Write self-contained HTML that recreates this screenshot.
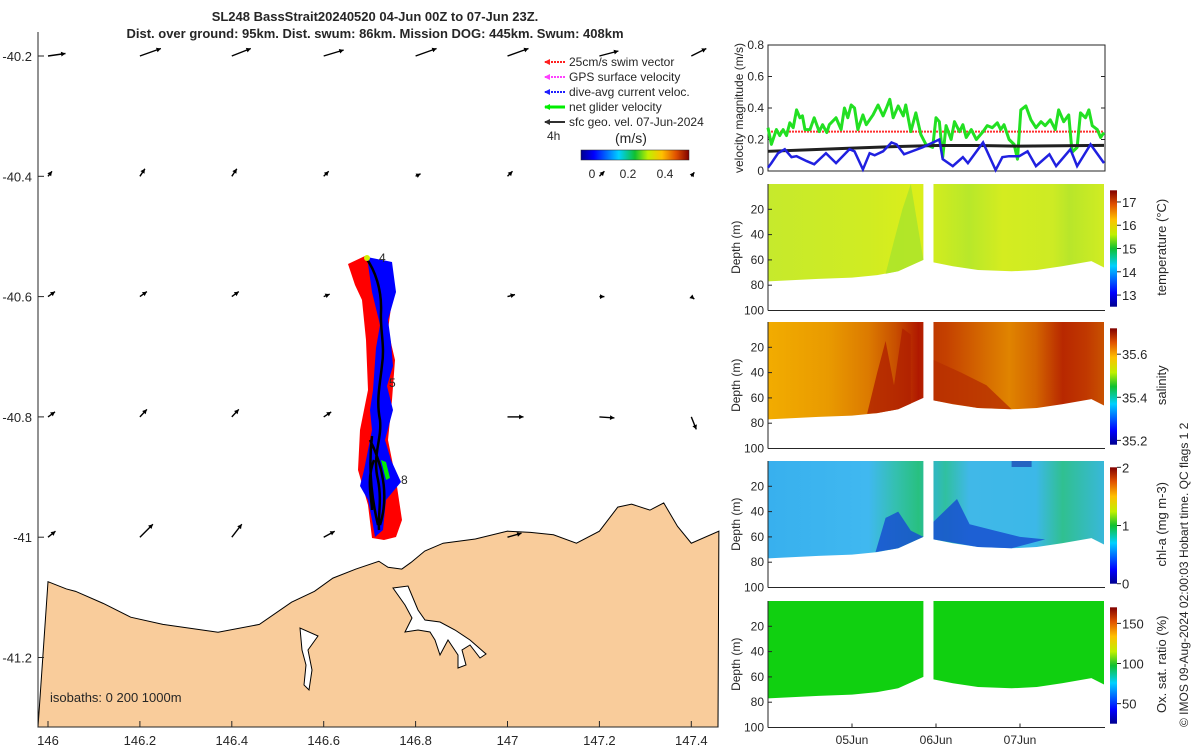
<!DOCTYPE html>
<html><head><meta charset="utf-8"><style>
body{margin:0;background:#fff}
svg text{font-family:"Liberation Sans",sans-serif;fill:#262626}
</style></head><body>
<svg id="s" width="1200" height="750" viewBox="0 0 1200 750" xmlns="http://www.w3.org/2000/svg">
<defs>
<linearGradient id="jet" x1="0" x2="1" y1="0" y2="0">
<stop offset="0" stop-color="#00008f"/><stop offset="0.12" stop-color="#0000ff"/><stop offset="0.35" stop-color="#00d0ff"/><stop offset="0.5" stop-color="#10c030"/><stop offset="0.62" stop-color="#c0f000"/><stop offset="0.75" stop-color="#ffc000"/><stop offset="0.88" stop-color="#e05000"/><stop offset="1" stop-color="#800000"/>
</linearGradient>
<linearGradient id="jetv" x1="0" x2="0" y1="1" y2="0">
<stop offset="0" stop-color="#00008f"/><stop offset="0.12" stop-color="#0000ff"/><stop offset="0.35" stop-color="#00d0ff"/><stop offset="0.5" stop-color="#10c030"/><stop offset="0.62" stop-color="#c0f000"/><stop offset="0.75" stop-color="#ffc000"/><stop offset="0.88" stop-color="#e05000"/><stop offset="1" stop-color="#800000"/>
</linearGradient>
<linearGradient id="gT" x1="768" x2="1103" gradientUnits="userSpaceOnUse">
<stop offset="0" stop-color="#c6ea2c"/><stop offset="0.3" stop-color="#d0ec22"/><stop offset="0.45" stop-color="#dcee1a"/><stop offset="0.6" stop-color="#b8e82a"/><stop offset="0.7" stop-color="#d4ec20"/><stop offset="0.85" stop-color="#cdeb24"/><stop offset="0.9" stop-color="#b8e62a"/><stop offset="1" stop-color="#d0ec22"/>
</linearGradient>
<linearGradient id="gS" x1="768" x2="1103" gradientUnits="userSpaceOnUse">
<stop offset="0" stop-color="#f2ac00"/><stop offset="0.18" stop-color="#e99a00"/><stop offset="0.3" stop-color="#dc7a00"/><stop offset="0.38" stop-color="#c85000"/><stop offset="0.45" stop-color="#b01800"/><stop offset="0.5" stop-color="#c03c00"/><stop offset="0.53" stop-color="#c44000"/><stop offset="0.65" stop-color="#d66c00"/><stop offset="0.72" stop-color="#e08400"/><stop offset="0.8" stop-color="#d36400"/><stop offset="0.88" stop-color="#b82800"/><stop offset="0.95" stop-color="#c03800"/><stop offset="1" stop-color="#c85000"/>
</linearGradient>
<linearGradient id="gC" x1="768" x2="1103" gradientUnits="userSpaceOnUse">
<stop offset="0" stop-color="#38b0ee"/><stop offset="0.3" stop-color="#40b8f0"/><stop offset="0.38" stop-color="#34c0b0"/><stop offset="0.45" stop-color="#28c080"/><stop offset="0.5" stop-color="#30b8c0"/><stop offset="0.53" stop-color="#30c0a0"/><stop offset="0.6" stop-color="#40b8e8"/><stop offset="0.8" stop-color="#3cb8e8"/><stop offset="0.88" stop-color="#30c090"/><stop offset="1" stop-color="#38b8d8"/>
</linearGradient>
</defs>
<g id="map"></g>
<g id="vel"></g>
<g id="sec"></g>
<text x="375" y="21" text-anchor="middle" font-size="13" font-weight="bold">SL248 BassStrait20240520 04-Jun 00Z to 07-Jun 23Z.</text>
<text x="375" y="38" text-anchor="middle" font-size="13" font-weight="bold">Dist. over ground: 95km. Dist. swum: 86km. Mission DOG: 445km. Swum: 408km</text>
<text transform="translate(1188,727) rotate(-90)" font-size="12">© IMOS 09-Aug-2024 02:00:03 Hobart time. QC flags 1  2</text>
</svg>
<script>
const NS="http://www.w3.org/2000/svg";
function mk(p,tag,at,txt){const e=document.createElementNS(NS,tag);for(const k in at)e.setAttribute(k,at[k]);if(txt!==undefined)e.textContent=txt;p.appendChild(e);return e;}
// ---------- MAP ----------
const lonTicks=[146,146.2,146.4,146.6,146.8,147,147.2,147.4];
const latTicks=[-40.2,-40.4,-40.6,-40.8,-41,-41.2];
const arrowLons=[146,146.2,146.4,146.6,146.8,147,147.2,147.4];
const arrowLats=[-40.2,-40.4,-40.6,-40.8,-41];
const arrowU=[[0.35,0.42,0.38,0.4,0.42,0.42,0.38,0.3],[0.08,0.1,0.1,0.1,0.1,0.1,0.1,0.06],[0.14,0.14,0.14,0.12,0,0.15,0.1,0.06],[0.14,0.14,0.14,0.15,0,0.32,0.3,0.1],[0.15,0.26,0.2,0.22,0,0.28,0,0]];
const arrowV=[[0.05,0.15,0.15,0.12,0.15,0.15,0.1,0.15],[0.1,0.15,0.15,0.1,0.05,0.1,0.1,0.08],[0.1,0.1,0.1,0.05,0,0.04,0,-0.05],[0.1,0.15,0.15,0.1,0,0,-0.02,-0.25],[0.12,0.26,0.26,0.12,0,0.08,0,0]];
const coastLon=[146,146.04,146.06,146.12,146.18,146.25,146.37,146.46,146.53,146.58,146.62,146.67,146.72,146.74,146.77,146.79,146.82,146.86,146.93,147,147.05,147.1,147.15,147.2,147.24,147.27,147.31,147.34,147.37,147.4,147.46];
const coastLat=[-41.074,-41.086,-41.09,-41.11,-41.133,-41.145,-41.158,-41.145,-41.108,-41.09,-41.068,-41.053,-41.04,-41.05,-41.053,-41.042,-41.023,-41.01,-41.003,-40.99,-40.992,-40.996,-41.01,-40.99,-40.95,-40.945,-40.955,-40.943,-40.982,-41.01,-40.99];
const X=l=>48+(l-146)*459.5, Y=a=>56+(-40.2-a)*601.5;
const m=document.getElementById('map');
let pts=coastLon.map((l,i)=>X(l)+','+Y(coastLat[i])).join(' ');
let land=mk(m,'polygon',{points:pts+' 718,727 38,727',fill:'#f9cc9b',stroke:'#000','stroke-width':1});


const inlet1=mk(m,'path',{d:'M300,628 L302,650 L306,665 L304,685 L309,690 L312,670 L308,650 L318,636 Z',fill:'#fff',stroke:'#000','stroke-width':1});


const est=mk(m,'path',{d:'M393,588 L408,586 L418,610 L425,620 L440,622 L455,630 L470,640 L486,654 L480,658 L470,645 L462,650 L466,665 L458,668 L458,655 L448,640 L440,655 L435,640 L430,632 L418,630 L405,632 L412,618 L405,605 Z',fill:'#fff',stroke:'#000','stroke-width':1});


mk(m,'line',{x1:38,y1:32,x2:38,y2:727,stroke:'#262626'});
mk(m,'line',{x1:38,y1:727,x2:718,y2:727,stroke:'#262626'});
lonTicks.forEach(l=>{const t=mk(m,'text',{x:X(l),y:745,'text-anchor':'middle','font-size':13},String(l));mk(m,'line',{x1:X(l),x2:X(l),y1:727,y2:721,stroke:'#262626'});});
latTicks.forEach(a=>{const t=mk(m,'text',{x:32,y:Y(a)+5,'text-anchor':'end','font-size':13},String(a));mk(m,'line',{x1:38,x2:44,y1:Y(a),y2:Y(a),stroke:'#262626'});});
arrowLats.forEach((a,r)=>arrowLons.forEach((l,c)=>{const u=arrowU[r][c],v=arrowV[r][c];if(!u&&!v)return;const x0=X(l),y0=Y(a),x1=x0+u*50,y1=y0-v*50;
 const g=mk(m,'g',{});
 mk(g,'line',{x1:x0,y1:y0,x2:x1,y2:y1,stroke:'#000','stroke-width':1.4});
 const ang=Math.atan2(y1-y0,x1-x0);mk(g,'polygon',{points:`${x1},${y1} ${x1-5*Math.cos(ang-0.5)},${y1-5*Math.sin(ang-0.5)} ${x1-5*Math.cos(ang+0.5)},${y1-5*Math.sin(ang+0.5)}`,fill:'#000'});}));
const red=mk(m,'polygon',{points:'348,264 365,256 385,268 392,300 388,330 395,360 392,400 388,440 396,480 402,520 396,537 384,540 372,538 368,505 358,470 360,430 368,390 366,340 362,300 355,285',fill:'#ff0000'});

const blue=mk(m,'polygon',{points:'367,257 392,262 396,292 388,320 391,342 393,366 387,386 393,410 385,440 391,460 401,482 386,500 383,530 375,537 372,520 368,500 360,486 364,470 372,430 370,410 373,390 376,348 380,325 372,292',fill:'#0000ff'});

const trk=mk(m,'path',{d:'M366,258 C375,270 382,290 381,312 C380,330 385,345 382,365 C380,385 376,400 380,420 C382,440 372,455 378,480 C382,500 378,515 379,530 M372,436 C368,470 372,500 378,525 M370,440 C385,470 388,500 380,525 M374,460 C366,480 372,500 372,510',fill:'none',stroke:'#000','stroke-width':2.5});

mk(m,'polygon',{points:'381,460 386,462 390,478 386,480',fill:'#00ee00'});
mk(m,'circle',{cx:367,cy:258,r:3,fill:'#d0f000'});
[['4',379,262],['5',389,387],['8',401,484]].forEach(d=>{const t=mk(m,'text',{x:d[1],y:d[2],'font-size':12},d[0]);});
const iso=mk(m,'text',{x:50,y:702,'font-size':13},'isobaths: 0   200  1000m');
const legColors=['#ff2020','#ff40ff','#2020ff','#00ee00','#303030'];
const legLabels=['25cm/s swim vector','GPS surface velocity','dive-avg current veloc.','net glider velocity','sfc geo. vel. 07-Jun-2024'];
legLabels.forEach((s,i)=>{const y=62+i*15;const g=mk(m,'g',{});
 mk(g,'line',{x1:545,x2:565,y1:y,y2:y,stroke:legColors[i],'stroke-width':i==3?3:2,'stroke-dasharray':i<3?'2,1':''});
 mk(g,'polygon',{points:`${544},${y} ${550},${y-3} ${550},${y+3}`,fill:legColors[i]});
 mk(g,'text',{x:569,y:y+4,'font-size':12},s);});
mk(m,'text',{x:547,y:140,'font-size':12},'4h');
const mu=mk(m,'text',{x:615,y:143,'font-size':14},'(m/s)');
const cb=mk(m,'rect',{x:581,y:150,width:108,height:10,fill:'url(#jet)',stroke:'#262626','stroke-width':0.5});
[['0',592],['0.2',628],['0.4',665]].forEach(d=>mk(m,'text',{x:d[1],y:178,'text-anchor':'middle','font-size':12},d[0]));
// ---------- VELOCITY ----------
const greenT=[0,0.04,0.1,0.14,0.18,0.22,0.26,0.3,0.34,0.38,0.41,0.44,0.5,0.55,0.61,0.65,0.7,0.73,0.81,0.87,0.91,0.95,0.99,1.03,1.07,1.13,1.17,1.25,1.31,1.37,1.41,1.45,1.49,1.55,1.61,1.64,1.7,1.76,1.82,1.88,1.96,2.0,2.04,2.08,2.12,2.18,2.22,2.28,2.32,2.36,2.42,2.48,2.56,2.61,2.67,2.73,2.77,2.81,2.87,2.93,2.97,3.01,3.07,3.13,3.19,3.25,3.3,3.36,3.42,3.46,3.52,3.58,3.62,3.68,3.72,3.78,3.82,3.86,3.92,3.96,4.0];
const greenV=[0.275,0.169,0.263,0.225,0.263,0.225,0.306,0.275,0.388,0.338,0.35,0.263,0.263,0.338,0.25,0.294,0.244,0.294,0.338,0.263,0.4,0.338,0.419,0.4,0.263,0.356,0.294,0.356,0.419,0.35,0.4,0.455,0.338,0.413,0.35,0.419,0.25,0.369,0.231,0.169,0.15,0.338,0.313,0.088,0.288,0.2,0.313,0.25,0.294,0.213,0.263,0.2,0.25,0.288,0.275,0.306,0.263,0.294,0.2,0.169,0.075,0.388,0.413,0.325,0.275,0.313,0.288,0.325,0.263,0.388,0.313,0.356,0.119,0.15,0.369,0.338,0.388,0.288,0.263,0.213,0.244];
const blueT=[0,0.04,0.12,0.2,0.28,0.34,0.46,0.55,0.69,0.81,0.97,1.03,1.13,1.21,1.27,1.37,1.47,1.53,1.62,1.84,2.04,2.08,2.2,2.32,2.38,2.56,2.71,2.79,2.87,2.99,3.09,3.19,3.35,3.43,3.6,3.68,3.84,4.0];
const blueV=[0.021,0.05,0.113,0.138,0.088,0.094,0.063,0.043,0.113,0.05,0.138,0.125,0.01,0.113,0.1,0.125,0.181,0.169,0.106,0.15,0.2,0.075,0.031,0.088,0.05,0.181,0.006,0.088,0.094,0.094,0.125,0.031,0.106,0.031,0.138,0.031,0.169,0.05];
const geoT=[0,0.5,1,1.5,2,2.5,3,3.5,4];
const geoV=[0.125,0.135,0.145,0.155,0.162,0.162,0.158,0.16,0.163];
const swimV=0.25;
const velTicks=[0,0.2,0.4,0.6,0.8];
const dayTicks=[1,2,3], dayLabels=['05Jun','06Jun','07Jun'];
const VX=t=>768+t*84, VY=v=>171-v*157.5;
const vg=document.getElementById('vel');
mk(vg,'rect',{x:768,y:45,width:337,height:126,fill:'none',stroke:'#262626'});
velTicks.forEach(v=>{mk(vg,'text',{x:764,y:VY(v)+4,'text-anchor':'end','font-size':12},String(v));mk(vg,'line',{x1:768,x2:772,y1:VY(v),y2:VY(v),stroke:'#262626'});mk(vg,'line',{x1:1101,x2:1105,y1:VY(v),y2:VY(v),stroke:'#262626'});});
const yl=mk(vg,'text',{transform:'translate(743,108) rotate(-90)','text-anchor':'middle','font-size':12},'velocity magnitude (m/s)');
const sw=mk(vg,'line',{x1:VX(0),x2:VX(4),y1:VY(swimV),y2:VY(swimV),stroke:'#ff3030','stroke-width':2,'stroke-dasharray':'2,1'});
const gl=mk(vg,'polyline',{points:greenT.map((t,i)=>VX(t)+','+VY(greenV[i])).join(' '),fill:'none',stroke:'#22e022','stroke-width':3,'stroke-linejoin':'round'});
const gk=mk(vg,'polyline',{points:geoT.map((t,i)=>VX(t)+','+VY(geoV[i])).join(' '),fill:'none',stroke:'#202020','stroke-width':3});
const bl=mk(vg,'polyline',{points:blueT.map((t,i)=>VX(t)+','+VY(blueV[i])).join(' '),fill:'none',stroke:'#2020e0','stroke-width':2.5});
// ---------- SECTIONS ----------
const depthTicks=[20,40,60,80,100];
const floorT1=[0,0.3,0.6,1.0,1.3,1.55,1.85];
const floorD1=[77,76,75,74,72,69,60];
const floorT2=[1.97,2.2,2.5,2.9,3.2,3.5,3.85,4.0];
const floorD2=[62,65,68,69,68,65,61,66];
const panels=[
 {y0:184,fill:'url(#gT)',name:'temperature-section',label:'temperature (°C)',ticks:[13,14,15,16,17],lo:12.5,hi:17.5},
 {y0:322,fill:'url(#gS)',name:'salinity-section',label:'salinity',ticks:[35.2,35.4,35.6],lo:35.18,hi:35.72},
 {y0:461,fill:'url(#gC)',name:'chlorophyll-section',label:'chl-a (mg m-3)',ticks:[0,1,2],lo:0,hi:2},
 {y0:601,fill:'#10d010',name:'oxygen-section',label:'Ox. sat. ratio (%)',ticks:[50,100,150],lo:25,hi:170}];
const sg=document.getElementById('sec');
panels.forEach((p,k)=>{
 const DY=d=>p.y0+d*1.265;
 const g=mk(sg,'g',{});
 const poly1=`${VX(1.85)},${DY(0)} ${VX(0)},${DY(0)} `+floorT1.map((t,i)=>VX(t)+','+DY(floorD1[i])).join(' ');
 const poly2=`${VX(4)},${DY(0)} ${VX(floorT2[0])},${DY(0)} `+floorT2.map((t,i)=>VX(t)+','+DY(floorD2[i])).join(' ');
 mk(g,'polygon',{points:poly1,fill:p.fill});
 mk(g,'polygon',{points:poly2,fill:p.fill});
 if(k===0){mk(g,'polygon',{points:`${VX(1.4)},${DY(71)} ${VX(1.5)},${DY(45)} ${VX(1.6)},${DY(20)} ${VX(1.7)},${DY(0)} ${VX(1.8)},${DY(40)} ${VX(1.85)},${DY(60)} ${VX(1.55)},${DY(69)}`,fill:'#a8e42c',opacity:0.8});}
 if(k===1){mk(g,'polygon',{points:`${VX(1.18)},${DY(72.5)} ${VX(1.3)},${DY(40)} ${VX(1.4)},${DY(15)} ${VX(1.5)},${DY(50)} ${VX(1.6)},${DY(5)} ${VX(1.7)},${DY(10)} ${VX(1.7)},${DY(64.5)} ${VX(1.55)},${DY(69)} ${VX(1.3)},${DY(72)}`,fill:'#b02000',opacity:0.8});
  mk(g,'polygon',{points:`${VX(1.97)},${DY(30)} ${VX(2.3)},${DY(40)} ${VX(2.6)},${DY(50)} ${VX(2.9)},${DY(69)} ${VX(2.5)},${DY(68)} ${VX(1.97)},${DY(62)}`,fill:'#b83000',opacity:0.8});}
 if(k===2){mk(g,'polygon',{points:`${VX(1.28)},${DY(72)} ${VX(1.4)},${DY(45)} ${VX(1.55)},${DY(40)} ${VX(1.7)},${DY(55)} ${VX(1.85)},${DY(60)} ${VX(1.55)},${DY(69)}`,fill:'#1850d0',opacity:0.85});
  mk(g,'polygon',{points:`${VX(1.97)},${DY(48)} ${VX(2.25)},${DY(30)} ${VX(2.4)},${DY(50)} ${VX(2.7)},${DY(55)} ${VX(3.0)},${DY(60)} ${VX(3.3)},${DY(62)} ${VX(2.9)},${DY(69)} ${VX(2.5)},${DY(68)} ${VX(1.97)},${DY(62)}`,fill:'#1850d0',opacity:0.85});
  mk(g,'rect',{x:VX(2.9),y:DY(0),width:20,height:6,fill:'#1a40b0',opacity:0.7});}
 mk(g,'line',{x1:768,x2:768,y1:DY(0),y2:DY(100),stroke:'#262626'});
 mk(g,'line',{x1:768,x2:1105,y1:DY(100),y2:DY(100),stroke:'#262626'});
 depthTicks.forEach(d=>{mk(g,'text',{x:764,y:DY(d)+4,'text-anchor':'end','font-size':12},String(d));mk(g,'line',{x1:768,x2:772,y1:DY(d),y2:DY(d),stroke:'#262626'});});
 const dl=mk(g,'text',{transform:`translate(740,${DY(50)}) rotate(-90)`,'text-anchor':'middle','font-size':12},'Depth (m)');
 const cy0=DY(5),cy1=DY(97);
 const c=mk(g,'rect',{x:1110,y:cy0,width:7,height:cy1-cy0,fill:'url(#jetv)'});
 p.ticks.forEach(v=>{const yy=cy1-(v-p.lo)/(p.hi-p.lo)*(cy1-cy0);mk(g,'line',{x1:1117,x2:1121,y1:yy,y2:yy,stroke:'#262626'});mk(g,'text',{x:1122,y:yy+5,'font-size':13},String(v));});
 const cl=mk(g,'text',{transform:`translate(1166,${DY(50)}) rotate(-90)`,'text-anchor':'middle','font-size':13},p.label);
 if(k===3){dayTicks.forEach((d,i)=>{mk(g,'line',{x1:VX(d),x2:VX(d),y1:DY(100),y2:DY(100)-4,stroke:'#262626'});mk(g,'text',{x:VX(d),y:744,'text-anchor':'middle','font-size':12},dayLabels[i]);});}
});
</script>
</body></html>
